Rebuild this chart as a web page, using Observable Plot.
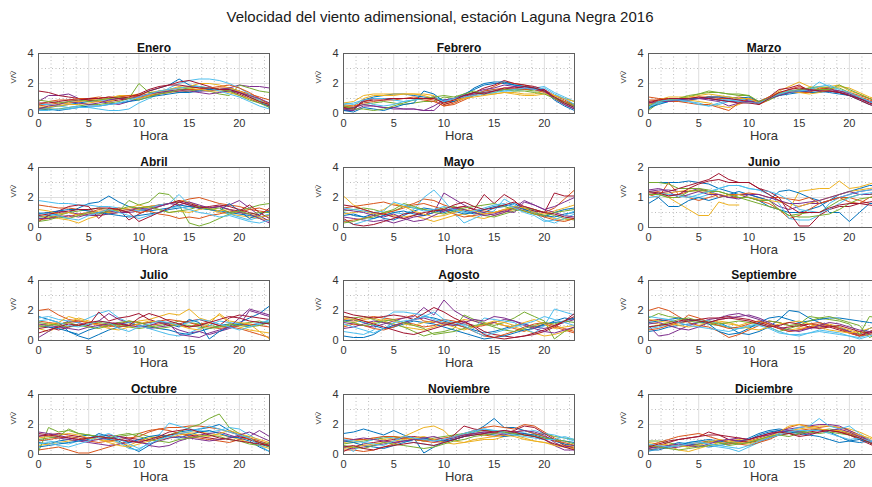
<!DOCTYPE html>
<html><head><meta charset="utf-8">
<script src="https://cdn.jsdelivr.net/npm/d3@7"></script>
<script src="https://cdn.jsdelivr.net/npm/@observablehq/plot@0.6"></script>
<style>
html,body{margin:0;padding:0;background:#fff;}
#fig{position:relative;width:872px;height:487px;overflow:hidden;background:#fff;font-family:"Liberation Sans",Arial,sans-serif;}
#title{position:absolute;left:0;width:880px;top:8px;text-align:center;font-size:15px;color:#1a1a1a;}
.panel{position:absolute;width:281px;height:120px;}
.panel svg{max-width:none !important;display:block;}
</style></head><body>
<div id="fig"><div id="title">Velocidad del viento adimensional, estación Laguna Negra 2016</div></div>
<script>
const hours = [0,1,2,3,4,5,6,7,8,9,10,11,12,13,14,15,16,17,18,19,20,21,22,23];
const xTicks = [0,5,10,15,20];
const xMinor = [1.25,2.5,3.75,6.25,7.5,8.75,11.25,12.5,13.75,16.25,17.5,18.75,21.25,22.5];
const yTicks4 = [0,2,4];
const yMinor4 = [1,3];
const yTicks2 = [0,1,2];
const yMinor2 = [0.5,1.5];
const colors = ["#0072BD","#D95319","#EDB120","#7E2F8E","#77AC30","#4DBEEE","#A2142F"];
const monthNames = ["Enero","Febrero","Marzo","Abril","Mayo","Junio","Julio","Agosto","Septiembre","Octubre","Noviembre","Diciembre"];

const enero = [
[0.4,0.4,0.5,0.6,0.7,0.8,0.9,0.9,1.0,1.0,1.2,1.5,1.7,1.9,2.3,1.9,1.8,1.6,1.6,1.7,1.5,1.2,0.9,0.5],
[0.5,0.6,0.7,0.7,0.8,0.9,1.0,1.1,1.1,1.2,1.2,1.3,1.5,1.6,1.7,1.8,1.7,1.6,1.7,1.7,1.5,1.3,1.1,0.9],
[0.3,0.4,0.6,0.7,0.8,0.9,0.9,1.0,1.2,1.2,1.3,1.4,1.5,1.6,1.7,1.8,2.0,2.0,1.9,1.7,1.5,1.2,0.9,0.7],
[0.8,1.2,1.2,1.3,1.0,0.9,0.8,0.7,0.6,0.8,1.0,1.2,1.3,1.5,1.6,1.6,1.5,1.5,1.6,1.7,1.9,1.8,1.8,1.7],
[0.2,0.3,0.3,0.4,0.5,0.6,0.6,0.7,0.8,1.0,2.0,1.4,1.4,1.5,1.4,1.5,1.6,1.5,1.3,1.2,1.9,1.7,1.5,1.4],
[0.6,0.6,0.5,0.4,0.5,0.4,0.3,0.2,0.2,0.3,0.7,1.0,1.3,1.7,2.0,2.2,2.3,2.3,2.2,2.0,1.7,1.3,0.9,0.5],
[1.5,1.4,1.2,1.1,1.0,0.9,0.8,0.8,0.9,1.0,1.2,1.5,1.7,1.9,2.1,2.2,2.0,1.8,1.6,1.5,1.3,1.0,0.7,0.5],
[0.3,0.3,0.2,0.3,0.4,0.5,0.5,0.6,0.7,0.8,0.9,1.1,1.2,1.3,1.4,1.4,1.5,1.6,1.6,1.6,1.4,1.1,0.8,0.4],
[0.6,0.8,0.9,0.9,1.0,1.0,1.1,1.0,1.1,1.2,1.1,1.2,1.3,1.4,1.5,1.6,1.6,1.7,1.8,1.9,1.7,1.4,1.0,0.6],
[0.4,0.5,0.5,0.6,0.6,0.7,0.8,0.8,1.0,1.1,1.0,1.2,1.4,1.6,1.8,1.7,1.6,1.5,1.5,1.4,1.2,1.0,0.8,0.6],
[0.3,0.5,0.6,0.8,0.7,0.6,0.7,0.9,1.0,1.0,1.1,1.3,1.4,1.5,1.5,1.5,1.4,1.3,1.4,1.5,1.4,1.2,1.0,0.7],
[0.9,0.8,0.7,0.8,0.9,0.8,0.9,1.0,1.1,1.0,0.9,1.1,1.3,1.4,1.6,1.7,1.8,1.7,1.6,1.5,1.2,0.9,0.7,0.4],
[0.2,0.2,0.3,0.3,0.4,0.4,0.5,0.6,0.7,0.9,1.1,1.3,1.5,1.6,1.7,1.8,1.8,1.7,1.5,1.3,1.1,0.8,0.5,0.3],
[0.7,0.7,0.8,0.9,0.9,1.0,1.0,1.1,1.0,1.1,1.3,1.6,1.8,1.9,1.9,1.8,1.7,1.7,1.6,1.6,1.4,1.1,0.8,0.6]];

const febrero = [
[0.3,0.2,0.9,1.1,1.2,1.3,1.3,1.2,1.1,1.0,0.9,1.0,1.3,1.6,1.9,2.0,2.0,1.9,1.8,1.7,1.5,1.0,0.7,0.4],
[0.4,0.4,0.8,1.0,1.0,1.0,1.0,1.1,1.0,0.9,0.5,0.7,1.0,1.3,1.5,1.8,2.1,2.0,1.9,1.7,1.6,1.2,0.9,0.6],
[0.6,0.5,1.0,1.2,1.2,1.2,1.3,1.3,1.3,1.2,0.6,0.8,1.0,1.2,1.3,1.3,1.4,1.4,1.3,1.3,1.5,1.2,1.0,0.8],
[0.2,0.2,0.5,0.5,0.4,0.3,0.3,0.3,0.2,0.2,0.8,1.0,1.2,1.4,1.6,1.7,1.9,1.8,1.7,1.6,1.6,1.1,0.8,0.5],
[0.5,0.4,0.6,0.7,0.8,0.7,0.6,0.7,0.8,0.8,1.1,1.0,1.2,1.4,1.4,1.5,1.6,1.6,1.6,1.5,1.5,1.1,0.8,0.6],
[0.7,0.6,0.8,0.6,0.5,0.6,0.8,0.9,1.0,1.1,0.9,1.0,1.2,1.3,1.5,1.6,1.5,1.5,1.6,1.7,1.8,1.4,1.1,0.8],
[0.4,0.3,0.9,1.0,1.0,1.0,1.0,1.0,1.0,1.1,0.6,0.8,1.1,1.4,1.7,1.9,2.2,2.0,1.9,1.8,1.6,1.0,0.6,0.3],
[0.2,0.1,0.4,0.3,0.2,0.4,0.6,0.7,1.5,1.3,0.8,0.8,1.2,1.7,2.0,2.1,2.1,1.9,1.8,1.7,1.5,0.9,0.5,0.2],
[0.5,0.5,0.7,0.8,0.9,0.9,1.0,1.0,0.9,0.8,0.5,0.6,0.9,1.2,1.5,1.6,1.7,1.7,1.6,1.6,1.4,1.0,0.8,0.5],
[0.7,0.8,1.2,1.3,1.3,1.3,1.3,1.3,1.2,1.0,0.7,0.9,1.0,1.1,1.2,1.3,1.4,1.3,1.2,1.2,1.3,1.2,1.0,0.8],
[0.3,0.4,0.6,0.5,0.4,0.4,0.3,0.3,0.2,0.5,0.9,1.0,1.2,1.3,1.4,1.5,1.6,1.8,1.7,1.6,1.5,1.0,0.6,0.3],
[0.5,0.3,0.3,0.2,0.3,0.5,0.7,0.9,1.0,1.1,1.2,1.1,1.3,1.5,1.3,1.4,1.6,1.5,1.5,1.4,1.3,1.0,0.7,0.5],
[0.6,0.7,0.9,1.0,1.0,0.9,0.8,0.9,1.0,1.0,0.8,1.0,1.1,1.2,1.3,1.4,1.5,1.6,1.7,1.6,1.7,1.3,1.0,0.6],
[0.3,0.3,0.8,0.9,0.9,1.0,1.0,1.0,1.0,1.0,0.7,0.9,1.2,1.4,1.3,1.5,1.7,1.7,1.8,1.7,1.5,1.1,0.7,0.4]];

const marzo = [
[0.3,0.7,0.8,0.9,0.9,1.0,1.0,0.9,0.9,0.9,0.9,0.6,1.0,1.3,1.4,1.5,1.4,1.4,1.5,1.4,1.2,0.9,0.6,0.4],
[1.1,1.0,1.0,1.0,1.0,1.1,1.1,1.0,1.0,1.1,1.0,0.6,0.9,1.3,1.6,1.8,1.6,1.5,1.5,1.4,1.3,1.1,0.9,0.7],
[0.4,0.8,1.0,1.0,0.9,0.8,0.7,0.5,0.4,0.6,0.9,0.8,1.1,1.5,1.8,2.1,1.8,1.7,1.8,1.9,1.5,1.3,1.0,0.8],
[0.6,0.8,0.9,0.9,1.0,1.0,0.9,0.8,0.5,0.7,0.9,0.7,1.0,1.3,1.4,1.6,1.6,1.5,1.5,1.4,1.2,1.0,0.7,0.5],
[0.2,0.7,0.9,1.0,1.1,1.3,1.4,1.4,1.3,1.3,1.2,0.7,0.9,1.2,1.4,1.5,1.7,1.8,1.7,1.7,1.4,1.1,0.8,0.6],
[0.5,0.7,0.8,0.8,0.8,0.7,0.5,0.6,0.8,1.0,0.9,0.8,1.1,1.3,1.4,1.4,1.6,2.1,1.8,1.5,1.3,1.0,0.8,0.5],
[0.8,0.9,0.9,1.0,1.0,1.0,1.1,1.1,1.0,0.9,0.8,0.7,1.1,1.6,1.7,1.9,1.5,1.6,1.7,1.4,1.2,0.9,0.6,0.4],
[0.4,0.6,0.8,0.9,1.0,1.0,1.1,1.1,1.1,1.0,1.1,0.8,1.0,1.2,1.3,1.4,1.5,1.5,1.4,1.3,1.2,1.0,0.8,0.6],
[0.9,0.9,0.8,0.8,0.7,0.6,0.6,0.4,0.2,0.7,1.0,0.8,1.1,1.4,1.5,1.4,1.4,1.7,1.6,1.5,1.4,1.2,1.0,0.8],
[0.6,0.9,1.1,1.1,1.1,1.2,1.3,1.2,1.1,1.0,1.0,0.7,1.0,1.4,1.5,1.4,1.3,1.4,1.6,1.8,1.7,1.4,1.1,0.9],
[0.7,0.8,0.8,0.9,0.9,1.0,1.0,0.9,0.8,0.8,0.8,0.7,1.0,1.2,1.4,1.5,1.5,1.6,1.6,1.5,1.3,1.0,0.8,0.6],
[0.5,0.8,0.9,1.0,1.2,1.3,1.5,1.4,1.3,1.2,1.2,0.8,1.0,1.3,1.5,1.6,1.7,1.6,1.6,1.9,1.6,1.3,1.0,0.7],
[0.4,0.8,0.9,0.9,0.8,0.6,0.5,0.7,0.9,0.8,0.7,0.7,1.0,1.3,1.5,1.5,1.6,1.8,1.9,1.6,1.4,1.1,0.8,0.5],
[0.7,0.9,1.0,1.0,1.0,1.1,1.0,0.9,0.8,0.7,0.7,0.6,1.0,1.4,1.6,1.7,1.6,1.5,1.5,1.4,1.2,1.0,0.7,0.5]];

const abril = [
[0.7,0.8,0.9,1.0,1.3,1.6,1.7,2.1,1.7,1.4,1.2,1.1,1.2,1.3,1.5,1.4,1.3,1.2,1.1,1.0,0.9,0.8,0.7,0.8],
[1.5,1.4,1.3,1.3,1.2,1.1,1.0,1.0,1.1,1.2,1.3,1.4,1.5,1.6,1.7,1.9,2.0,1.8,1.6,1.5,1.4,1.2,1.1,1.0],
[0.8,0.7,0.6,0.5,0.3,0.6,0.8,0.9,1.0,1.1,1.2,1.4,1.5,1.6,1.8,1.7,1.4,1.2,1.0,0.9,0.8,0.7,0.6,0.5],
[0.9,1.0,1.1,1.0,0.9,0.8,0.8,0.9,1.0,1.0,1.1,1.3,1.5,1.6,1.7,1.5,1.4,1.3,1.4,1.5,1.8,1.3,0.8,0.4],
[0.6,0.7,0.8,1.0,1.1,1.2,1.3,1.2,1.1,1.8,1.5,1.7,2.3,2.2,1.5,0.3,0.1,0.3,0.6,0.9,1.1,1.3,1.5,1.6],
[1.8,1.7,1.6,1.6,1.5,1.5,1.4,1.4,1.3,1.2,1.1,1.3,1.5,1.6,2.2,1.5,1.3,1.2,1.1,0.9,0.7,0.5,0.7,0.9],
[0.4,0.8,1.1,1.4,1.5,1.4,0.6,1.3,1.2,0.5,0.9,1.2,1.4,1.6,1.8,1.6,1.4,1.3,1.4,1.2,1.1,1.5,1.0,0.6],
[0.9,1.0,1.1,1.2,1.2,1.1,1.0,0.9,0.8,0.7,0.8,0.9,1.0,1.2,1.3,1.4,1.3,1.2,1.1,1.6,1.1,0.6,0.9,1.1],
[0.5,0.6,0.8,0.7,0.9,1.0,1.2,1.1,1.3,1.2,1.0,1.1,0.9,0.8,0.6,0.7,0.6,0.8,0.9,1.1,1.0,1.2,1.3,1.1],
[1.2,1.1,0.9,1.0,0.8,0.9,1.1,1.0,1.2,1.3,1.5,1.3,1.2,1.0,1.1,1.0,1.2,1.3,1.1,1.2,1.0,0.9,0.7,0.8],
[0.6,0.6,0.7,0.8,0.7,0.9,0.9,1.1,1.0,1.1,1.3,1.2,1.4,1.6,1.5,1.7,1.5,1.3,1.4,1.2,1.0,0.9,0.6,0.3],
[0.4,0.5,0.7,0.6,0.8,1.0,0.9,1.1,1.2,1.4,1.3,1.4,1.2,1.0,1.1,1.2,1.4,1.2,1.3,1.0,1.1,0.9,1.0,1.0],
[1.0,0.9,0.8,0.6,0.5,0.8,1.0,1.2,1.0,0.8,0.6,0.8,1.0,1.3,1.4,1.2,1.0,0.9,0.7,0.8,0.6,0.4,0.3,0.5],
[0.8,0.9,1.0,1.1,1.2,1.2,1.3,1.3,1.2,1.0,0.4,0.7,1.0,1.3,1.7,1.5,1.3,1.4,1.5,1.4,1.2,1.0,0.8,1.3]];

const mayo = [
[1.0,0.8,0.7,0.9,0.6,0.5,0.8,1.1,1.3,1.2,1.0,1.2,1.1,0.9,1.0,1.3,1.4,1.6,1.3,1.1,0.7,1.0,1.2,1.3],
[1.3,1.4,1.5,1.6,1.7,1.5,1.4,1.6,1.9,1.8,1.5,1.3,1.4,1.2,1.1,1.0,1.1,1.3,1.4,1.2,1.0,1.3,1.9,2.5],
[2.1,1.5,1.2,1.0,0.9,0.8,0.7,0.8,0.6,0.4,0.6,0.8,0.9,0.7,0.6,0.8,1.0,1.2,1.1,0.9,0.8,0.6,0.5,0.6],
[0.7,0.6,0.5,0.4,0.5,0.3,0.5,0.7,0.8,1.0,2.3,1.9,1.5,1.2,1.0,0.8,1.0,1.3,1.8,1.5,1.2,1.4,1.7,2.0],
[1.1,1.2,1.3,1.2,1.0,1.1,1.4,1.3,1.2,1.1,1.3,1.4,1.2,1.0,0.8,0.7,0.9,1.1,1.3,1.2,1.0,0.8,0.6,0.5],
[0.5,0.2,0.4,0.6,0.8,1.0,0.9,1.2,2.0,2.5,1.8,1.0,0.3,0.6,0.9,1.1,1.9,1.5,1.2,1.0,0.5,0.3,0.6,0.9],
[0.6,0.2,0.1,0.2,0.4,0.6,0.9,1.0,0.8,1.2,1.1,1.3,1.4,1.2,2.2,1.6,2.2,1.8,1.2,1.1,1.0,2.3,2.1,2.1],
[0.8,0.9,0.7,0.6,0.8,1.0,1.1,0.9,0.8,1.0,1.2,1.1,0.9,1.0,1.2,1.4,1.5,1.4,1.2,1.0,0.8,0.7,0.9,1.0],
[0.4,0.5,0.6,0.8,0.9,1.1,1.3,1.5,1.6,1.4,1.2,0.9,0.7,0.8,0.9,1.0,1.2,1.3,1.1,0.9,0.7,0.5,0.4,0.6],
[0.9,1.0,1.1,0.9,1.2,1.6,1.4,1.1,0.9,0.7,0.8,1.0,1.2,1.1,0.9,1.0,1.2,1.4,1.3,1.0,0.9,1.1,1.3,1.5],
[1.2,1.1,1.0,0.8,0.7,0.9,0.6,0.4,0.5,0.8,1.1,1.3,1.2,1.0,0.8,0.9,1.1,1.0,1.7,1.5,1.2,1.0,0.8,0.7],
[0.3,0.4,0.6,0.7,1.0,1.2,1.6,1.4,1.2,1.0,0.9,1.1,1.3,1.4,1.5,1.6,1.4,1.2,1.1,0.9,0.8,1.0,1.1,1.2],
[1.3,1.2,1.1,1.0,1.1,1.7,1.5,1.3,1.1,1.2,1.4,1.2,1.0,1.1,1.3,1.5,1.6,1.3,1.0,0.8,0.4,0.5,0.8,1.1],
[1.5,1.4,1.2,1.0,0.9,0.7,0.6,0.8,1.0,1.1,1.2,1.5,1.7,1.4,1.2,1.3,1.5,1.7,1.4,1.2,1.0,0.9,0.7,0.6]];

const junio = [
[1.5,1.5,1.5,1.5,1.55,1.5,1.45,1.3,1.2,1.1,1.0,0.9,0.7,0.6,0.5,0.5,0.6,0.7,0.9,1.1,1.2,1.3,1.4,1.4],
[1.1,1.0,1.5,1.1,1.0,0.9,1.0,1.1,1.0,1.0,1.0,0.9,0.8,0.6,0.3,0.4,0.6,0.8,0.9,1.0,1.0,0.9,0.8,0.8],
[1.2,1.1,1.0,0.8,0.6,0.4,0.4,0.85,0.75,0.75,null,null,null,null,0.6,1.2,1.25,1.3,1.3,1.55,1.3,1.35,1.45,1.55],
[1.2,1.25,1.25,1.2,1.2,1.3,1.2,1.1,1.0,1.1,1.1,1.0,0.9,0.7,0.6,0.7,0.8,0.8,0.9,1.0,1.1,1.2,1.25,1.3],
[1.5,1.5,1.45,1.3,1.3,1.3,1.25,1.2,1.1,1.0,0.9,0.8,0.7,0.6,0.4,0.45,0.5,0.5,0.7,0.9,1.0,1.1,1.1,1.1],
[1.0,1.05,1.1,1.1,1.05,1.0,1.1,1.3,1.4,1.4,1.3,1.25,1.1,0.8,0.3,0.25,0.25,0.4,0.8,1.0,1.1,1.2,1.25,1.3],
[1.1,1.15,1.2,1.3,1.4,1.5,1.6,1.8,1.6,1.5,1.5,1.3,1.2,1.0,0.5,0.05,0.05,0.4,0.6,0.7,0.7,0.8,0.85,0.9],
[0.8,1.0,0.7,0.7,0.9,1.0,0.9,1.0,1.1,1.2,1.1,1.0,0.9,1.2,1.25,1.15,1.0,0.9,0.5,0.5,0.2,0.5,0.8,0.8],
[1.15,1.2,1.05,1.1,1.2,1.25,1.2,1.0,1.1,1.1,1.15,1.1,1.0,1.0,0.95,0.9,1.0,0.8,0.9,1.0,0.85,0.8,1.0,1.1],
[1.1,1.1,1.15,1.2,1.25,1.2,1.15,1.1,1.05,1.1,1.0,0.95,0.9,0.85,0.8,0.7,0.8,0.9,1.0,1.1,1.2,1.25,1.3,1.35],
[1.25,1.3,1.2,1.0,1.1,1.2,1.1,1.1,1.0,0.95,1.1,1.1,1.0,0.9,0.8,0.8,0.85,0.9,1.0,1.1,1.2,1.1,1.1,1.2],
[1.1,1.1,1.0,1.0,1.2,1.25,1.2,1.2,1.1,1.0,1.0,0.9,0.9,0.6,0.4,0.35,0.35,0.4,0.45,0.6,0.8,0.95,1.0,1.0],
[1.2,1.15,1.1,1.05,1.0,1.1,1.2,1.3,1.4,1.4,1.3,1.25,1.2,1.1,0.9,0.6,0.55,0.5,0.6,0.8,1.0,1.1,1.15,1.2],
[1.2,1.15,1.05,1.1,1.3,1.45,1.55,1.6,1.5,1.5,1.5,1.3,1.1,0.9,0.7,0.5,0.5,0.5,0.65,0.75,0.8,0.8,0.75,0.7]];

const julio = [
[1.6,1.4,1.2,0.6,0.4,0.7,0.9,1.0,1.1,1.2,1.0,0.9,0.8,0.7,0.5,0.4,0.6,0.8,1.0,1.1,1.2,1.5,1.8,2.3],
[2.0,2.1,1.7,1.4,1.3,1.2,1.0,0.9,1.1,1.3,1.2,1.0,1.1,1.2,1.0,0.9,1.1,1.2,1.0,0.9,0.8,0.6,0.4,0.2],
[0.8,0.6,0.9,1.2,1.5,1.3,1.1,1.0,0.9,1.1,1.3,1.4,1.6,1.8,1.7,2.1,1.5,1.3,1.7,1.2,0.9,0.7,0.6,0.5],
[0.2,0.6,1.0,1.3,1.2,1.0,1.3,1.8,1.4,1.2,1.0,0.8,0.9,1.0,0.7,0.5,0.6,0.4,0.6,0.8,1.0,2.0,1.8,1.6],
[1.2,1.1,1.0,0.9,1.0,1.1,1.2,1.1,1.0,0.9,0.8,0.9,1.0,1.1,1.3,1.2,1.1,1.0,0.9,1.0,1.1,1.2,1.3,1.1],
[1.5,1.6,1.4,1.3,1.2,1.5,1.8,2.0,1.5,1.2,1.0,0.8,0.6,0.4,0.3,0.5,0.8,1.0,1.3,1.2,1.1,1.0,1.2,1.3],
[0.8,0.9,0.7,0.9,1.1,1.0,1.9,1.3,1.5,1.6,1.8,1.4,1.2,1.0,1.1,1.3,1.4,1.2,1.0,1.5,1.7,1.6,1.5,1.4],
[1.0,0.9,0.8,0.6,0.3,0.1,0.4,0.7,0.9,1.0,1.1,1.2,1.3,1.1,0.9,1.4,1.2,0.1,0.6,0.9,1.1,1.0,1.1,1.2],
[1.3,1.2,1.1,1.2,1.3,1.2,1.1,1.0,0.9,1.0,1.1,1.2,1.3,1.4,1.3,1.2,1.0,0.9,0.8,0.9,1.0,1.1,1.0,0.9],
[1.0,1.1,1.2,1.6,1.4,1.2,1.0,0.8,0.7,0.9,1.1,1.3,1.2,1.1,1.0,0.8,0.7,1.1,1.8,1.3,1.2,1.1,0.6,0.1],
[1.1,1.0,0.9,0.8,0.7,0.9,1.0,1.1,1.2,1.0,0.9,1.0,1.2,1.1,0.4,0.3,0.2,0.5,0.7,0.9,1.5,2.1,1.9,1.7],
[0.9,1.0,1.1,1.2,1.0,0.9,0.8,1.0,1.2,1.3,1.2,1.0,0.8,0.9,1.1,1.0,0.9,0.8,0.9,1.1,1.0,0.9,1.0,1.2],
[1.3,1.4,1.2,1.0,0.9,1.1,1.3,1.2,0.8,0.6,0.9,1.1,1.3,1.2,1.0,1.2,1.4,1.3,1.1,0.9,0.7,0.9,1.1,1.4],
[0.5,0.7,0.9,1.1,1.0,1.2,1.3,1.2,1.1,1.0,1.5,1.8,1.6,1.3,1.1,0.9,1.0,1.2,1.4,1.6,1.5,1.3,1.2,1.1]];

const agosto = [
[0.3,0.2,0.2,0.4,0.8,1.0,1.2,1.4,1.6,1.5,1.3,1.1,0.9,0.7,0.5,0.6,0.8,1.0,1.1,0.9,1.0,1.3,1.5,1.4],
[1.4,1.3,1.5,1.6,1.5,1.4,1.5,1.7,1.3,1.2,1.4,1.3,1.1,0.9,1.0,1.2,1.0,0.8,0.6,0.9,1.1,0.9,0.7,0.5],
[1.0,1.2,1.4,1.5,1.3,1.1,0.9,0.8,0.7,0.9,1.1,1.2,1.4,1.3,1.1,1.2,1.0,0.9,0.7,0.5,0.3,0.4,0.6,0.8],
[1.2,1.1,1.0,0.9,1.1,1.3,1.5,1.6,2.2,1.7,2.7,2.0,1.6,1.3,1.1,1.2,1.4,1.3,1.1,0.9,0.8,1.0,1.2,1.4],
[1.6,1.5,1.6,1.4,1.2,1.1,0.9,0.6,0.3,0.5,0.6,0.8,1.7,1.4,1.2,1.0,1.2,1.5,1.9,1.6,1.3,0.1,0.6,0.9],
[0.6,0.5,0.4,0.7,1.5,1.9,1.9,1.8,1.7,1.4,1.2,1.0,1.1,0.8,1.5,1.4,1.3,1.2,0.8,0.5,1.0,2.1,1.9,1.7],
[1.9,1.7,1.6,1.5,1.6,1.7,1.6,1.4,1.8,2.2,1.9,1.5,1.2,1.0,0.6,0.4,0.3,0.2,0.3,0.4,0.6,0.9,1.3,1.8],
[1.3,1.4,1.2,1.0,0.8,0.9,1.1,1.3,1.2,1.1,0.9,0.7,0.5,0.3,0.1,0.2,0.3,0.5,0.7,0.8,1.1,1.2,1.3,1.5],
[0.9,1.1,1.0,0.8,0.7,0.9,1.2,1.1,0.9,1.0,1.2,1.1,0.9,0.6,0.3,0.2,0.4,0.6,0.9,1.1,1.2,1.0,0.8,0.6],
[1.5,1.4,1.3,1.2,1.4,1.3,1.1,1.0,1.2,1.3,1.1,0.9,0.7,0.9,1.1,1.3,1.2,1.0,1.2,1.4,1.1,0.8,0.9,1.0],
[0.8,0.9,1.1,1.3,1.2,1.0,1.2,1.4,1.5,1.3,1.1,1.0,1.2,1.4,1.3,1.6,1.5,1.3,1.0,0.8,0.6,0.5,0.7,0.9],
[1.3,1.2,1.0,1.1,1.3,1.4,1.2,1.0,0.8,0.4,0.5,0.6,0.8,1.0,1.1,0.9,0.7,0.6,0.8,1.0,1.2,1.1,1.3,1.2],
[1.1,0.9,0.7,0.5,0.8,1.2,1.3,1.4,1.6,1.9,1.4,1.2,1.0,0.6,0.3,0.5,0.7,0.9,1.1,1.3,1.6,1.4,1.2,1.0],
[1.6,1.5,1.3,1.1,0.9,0.7,0.5,0.4,0.6,0.8,1.0,1.2,1.3,0.9,0.4,0.2,0.1,0.2,0.3,0.5,0.7,1.0,1.3,1.6]];

const septiembre = [
[0.6,0.7,0.9,1.0,1.1,1.2,1.3,1.2,0.9,0.5,0.4,0.6,0.9,1.4,2.0,1.9,1.5,1.2,1.0,0.9,0.6,0.4,0.8,1.1],
[2.0,2.2,2.0,1.6,1.2,1.0,0.9,0.6,0.2,0.4,0.7,1.0,1.3,1.2,1.0,0.9,1.1,1.2,1.0,0.8,0.6,0.4,0.5,0.7],
[1.2,1.1,1.0,1.1,1.3,1.4,1.3,1.2,1.1,1.0,1.2,1.3,1.1,0.9,0.7,0.8,0.9,1.0,1.1,0.9,0.7,0.5,0.6,0.8],
[1.0,0.3,0.4,0.7,1.0,1.2,1.4,1.5,1.7,1.8,1.6,1.4,1.1,0.8,0.6,0.7,0.8,0.9,1.0,0.8,0.6,0.3,0.5,0.7],
[1.5,1.8,1.6,1.5,1.3,1.2,1.1,1.0,0.9,0.8,0.9,1.1,1.3,1.2,1.0,1.1,1.6,1.5,1.4,1.3,1.1,0.4,1.6,1.5],
[0.8,0.9,1.1,1.2,1.3,1.4,1.3,1.1,0.9,0.8,0.9,1.0,0.8,0.5,0.4,0.4,0.5,0.6,0.5,0.4,0.3,0.2,0.4,0.6],
[1.3,1.4,1.3,1.2,1.3,1.4,1.5,1.5,1.6,1.5,1.4,1.2,1.0,0.8,0.9,1.0,1.1,1.0,0.9,0.7,0.5,0.3,0.6,0.8],
[1.2,1.3,1.4,1.5,1.4,1.3,1.1,0.6,0.4,0.5,0.8,1.2,1.5,1.6,1.4,1.2,1.3,1.4,1.5,1.5,1.4,1.3,1.2,1.1],
[0.7,0.8,1.0,1.2,1.7,1.5,1.2,1.0,0.8,0.9,1.1,1.3,1.1,0.8,0.6,0.7,0.9,1.1,1.0,0.8,0.5,0.3,0.4,0.6],
[1.4,1.3,1.2,1.0,0.9,1.0,1.2,1.3,1.2,1.0,0.8,0.7,0.9,1.1,1.2,1.3,1.1,0.9,0.7,0.6,0.5,0.6,0.8,1.0],
[1.1,1.2,1.0,0.8,0.7,0.9,1.2,1.4,1.5,1.6,1.7,1.5,1.2,0.9,0.7,0.6,0.8,1.0,1.2,1.1,0.9,0.7,0.6,0.5],
[0.9,1.0,1.2,1.4,1.5,1.3,1.2,1.1,1.2,1.3,1.2,1.1,0.9,0.6,0.8,1.0,1.3,1.5,1.6,1.4,1.2,1.0,0.2,0.5],
[1.6,1.5,1.4,1.2,1.0,0.9,0.8,0.7,0.6,0.8,1.0,1.1,0.9,0.6,0.4,0.3,0.5,0.7,0.6,0.5,0.3,0.1,0.3,0.5],
[0.9,1.0,1.1,1.3,1.4,1.3,1.2,1.4,1.5,1.4,1.3,1.1,0.9,1.0,1.2,1.1,0.9,0.8,0.9,1.0,0.8,0.6,0.5,0.7]];

const octubre = [
[0.8,0.7,0.9,1.0,1.2,1.3,1.1,1.0,0.9,0.5,0.2,0.6,1.0,1.3,1.5,1.6,1.7,1.8,2.0,1.6,1.3,1.0,0.7,0.5],
[0.3,0.4,0.5,0.3,0.1,0.1,0.3,0.5,0.7,0.9,1.4,1.6,1.7,1.8,1.8,1.9,1.9,1.8,1.7,1.5,1.3,1.0,0.8,0.6],
[0.6,0.7,0.8,0.9,1.0,1.1,1.0,0.9,0.8,0.6,0.9,1.1,1.2,1.3,1.4,1.5,1.5,1.4,1.3,1.2,1.0,0.8,0.6,0.4],
[1.3,1.2,1.1,1.0,0.9,0.8,0.7,0.6,0.7,0.8,0.9,0.6,0.5,0.6,0.9,1.1,1.3,1.4,1.5,1.3,1.1,1.2,1.6,1.2],
[0.2,1.8,1.5,1.6,1.4,1.3,1.2,1.1,1.2,1.3,1.4,1.2,1.1,1.3,1.5,1.8,2.0,2.4,2.7,1.8,1.4,1.1,0.8,0.5],
[1.0,0.9,0.8,0.7,0.9,1.1,1.3,1.1,0.8,0.4,0.3,0.8,1.3,2.1,1.9,1.7,1.6,1.5,1.6,1.8,1.7,1.3,0.9,0.6],
[1.2,1.3,1.4,1.3,1.2,1.1,1.2,1.3,1.2,1.1,1.0,0.9,1.1,1.3,1.4,1.3,1.2,1.1,1.0,1.1,1.2,1.0,0.8,0.6],
[0.5,0.6,0.7,0.8,0.9,1.0,1.4,1.2,1.0,0.8,1.0,1.2,1.3,1.2,1.1,1.3,1.5,1.6,1.4,1.2,1.1,0.9,0.5,0.2],
[0.9,1.0,1.1,1.2,1.1,0.9,0.8,0.9,1.0,1.1,1.2,1.5,1.7,1.6,1.4,1.2,1.1,1.0,0.9,0.8,1.0,1.1,0.9,0.7],
[1.1,1.2,1.3,1.4,1.3,1.1,1.0,0.8,0.6,0.5,0.7,0.9,1.0,1.1,1.3,1.4,1.3,1.2,1.4,1.6,1.4,1.2,1.0,0.8],
[1.5,1.4,1.3,1.1,1.0,0.9,1.0,1.1,1.2,1.0,0.8,0.7,0.9,1.1,1.2,1.1,1.0,0.9,1.0,1.1,1.3,1.5,1.2,0.9],
[1.0,1.1,1.2,1.7,1.4,1.3,1.2,1.1,1.3,1.4,1.2,1.0,0.9,0.8,1.0,1.1,1.2,1.3,1.2,1.0,0.9,0.7,0.6,0.8],
[0.7,0.8,0.6,0.5,0.7,0.9,1.2,1.4,1.1,0.7,0.4,0.7,1.0,1.2,1.4,1.5,1.7,1.9,1.7,1.5,1.3,1.1,0.6,0.2],
[1.4,1.3,1.2,1.1,1.0,1.1,1.2,1.1,1.0,0.9,0.8,1.0,1.2,1.5,1.6,1.7,1.5,1.3,1.1,1.0,0.9,0.8,0.7,0.6]];

const noviembre = [
[1.4,1.5,1.7,1.5,1.3,1.6,1.3,1.1,0.1,0.5,0.8,1.0,1.2,1.5,1.9,2.4,1.8,1.8,1.6,1.4,1.2,1.0,0.9,0.8],
[0.3,0.3,0.2,0.3,0.5,0.7,0.9,1.0,0.9,0.8,0.9,1.2,1.4,1.6,1.8,1.9,1.8,1.7,2.0,1.9,1.5,1.1,0.7,0.4],
[0.8,0.9,1.0,1.1,1.0,1.1,1.2,1.5,1.8,1.9,1.6,0.9,0.8,0.9,1.0,1.0,1.2,1.3,1.1,0.9,0.8,0.7,0.6,0.5],
[0.5,0.4,0.5,0.6,0.7,0.8,0.9,1.0,1.0,0.9,0.8,1.0,1.2,1.4,1.5,1.5,1.6,1.5,1.4,1.2,1.0,0.6,0.3,0.3],
[0.7,0.8,0.9,1.0,1.1,1.2,1.1,1.0,0.9,1.1,1.2,1.3,1.4,1.5,1.6,1.6,1.5,1.4,1.3,1.3,1.4,1.2,1.1,1.0],
[0.6,0.2,0.8,1.0,1.2,1.1,0.9,0.8,0.7,0.6,0.8,1.1,1.3,1.5,1.7,1.6,1.5,1.4,1.5,1.6,1.4,1.3,1.1,0.9],
[0.2,0.5,0.7,0.8,0.9,1.0,1.1,1.2,1.1,1.0,0.9,1.3,1.9,1.7,1.6,1.5,1.4,1.6,1.9,1.8,1.4,1.0,0.6,0.4],
[0.9,0.8,0.6,0.5,0.4,0.6,0.8,1.0,1.1,1.0,0.9,1.0,1.2,1.3,1.4,1.3,1.2,1.3,1.4,1.3,1.1,0.9,0.7,0.6],
[1.1,1.0,1.0,1.1,1.2,1.2,1.1,1.0,0.9,1.0,1.1,1.2,1.3,1.4,1.3,1.2,1.3,1.5,1.6,1.4,1.2,0.9,0.8,0.6],
[0.4,0.5,0.6,0.7,0.8,0.9,1.0,1.1,1.2,1.0,0.8,0.7,0.8,1.0,1.1,1.2,1.3,1.2,1.0,0.9,0.8,0.6,0.5,0.4],
[0.9,1.0,1.1,1.0,0.9,0.8,0.9,1.0,1.1,1.2,1.0,1.1,1.3,1.4,1.5,1.4,1.3,1.5,1.6,1.5,1.3,0.8,0.5,0.6],
[0.6,0.5,0.4,0.6,0.8,0.7,0.6,0.5,0.4,0.5,0.7,0.9,1.0,1.2,1.3,1.4,1.5,1.4,1.3,1.2,1.1,1.0,0.9,0.7],
[1.0,0.9,0.8,0.7,0.6,0.9,1.2,1.1,1.0,0.9,1.0,1.2,1.4,1.6,1.7,1.6,1.4,1.3,1.2,1.1,1.0,1.0,1.2,1.0],
[0.5,0.6,0.4,0.3,0.5,0.6,0.7,0.8,0.7,0.6,0.8,1.0,1.2,1.3,1.4,1.5,1.6,1.5,1.3,1.2,1.0,0.7,0.5,0.3]];

const diciembre = [
[0.5,0.4,0.6,0.8,0.7,0.6,0.5,0.6,0.7,0.8,1.1,1.4,1.6,1.7,1.6,1.5,1.6,1.7,1.5,1.2,0.9,0.8,0.9,0.6],
[0.3,0.4,0.5,0.6,0.7,0.8,0.9,0.8,0.7,0.8,0.9,1.1,1.3,1.5,1.8,2.0,1.9,1.8,1.9,1.8,1.6,1.3,1.0,0.5],
[0.8,0.7,0.6,0.3,0.2,0.4,0.6,0.8,0.9,1.0,0.9,1.0,1.2,1.4,1.6,1.7,1.8,1.9,1.9,1.8,1.7,1.5,1.2,0.9],
[0.6,0.5,0.4,0.5,0.6,0.7,0.8,0.9,1.0,1.1,1.0,1.2,1.4,1.6,1.7,1.8,1.9,2.0,2.0,1.9,1.6,1.3,0.9,0.5],
[0.9,0.9,0.8,0.6,0.5,0.7,0.9,0.8,0.6,0.7,0.8,1.0,1.2,1.3,1.4,1.5,1.6,1.6,1.7,1.6,1.4,1.1,0.8,0.5],
[0.2,0.4,0.6,0.7,0.8,0.9,0.6,0.5,0.4,0.2,0.5,0.8,1.1,1.4,1.6,1.8,1.9,2.4,1.9,1.7,1.9,1.4,1.0,0.6],
[0.4,0.6,0.8,1.0,1.1,1.2,1.5,1.3,1.0,0.9,0.8,0.9,1.1,1.3,1.4,1.3,1.5,1.6,1.6,1.5,1.3,1.0,0.7,0.4],
[0.3,0.3,0.5,0.6,0.8,0.9,1.0,0.9,0.8,0.9,1.0,1.3,1.5,1.6,1.5,1.4,1.3,1.2,1.0,0.8,0.9,1.0,0.8,0.5],
[0.6,0.8,1.0,1.2,1.3,1.4,1.2,1.0,0.8,0.7,0.6,0.8,1.0,1.3,1.5,1.6,1.7,1.7,1.6,1.5,1.4,1.2,0.9,0.6],
[0.5,0.6,0.7,0.6,0.5,0.6,0.8,1.0,0.9,0.8,0.7,0.9,1.2,1.5,1.9,2.0,1.8,1.7,1.6,1.6,1.5,1.3,1.1,0.8],
[0.4,0.5,0.6,0.7,0.6,0.5,0.7,0.9,1.0,0.9,1.0,1.2,1.3,1.5,1.6,1.5,1.4,1.5,1.6,1.7,1.5,1.2,0.9,0.6],
[0.6,0.5,0.4,0.3,0.4,0.5,0.6,0.7,0.8,0.7,0.8,1.0,1.2,1.3,1.2,1.4,1.5,1.4,1.5,1.4,1.3,1.1,0.8,0.4],
[0.7,0.6,0.5,0.6,0.7,0.8,0.7,0.6,0.5,0.4,0.6,0.9,1.1,1.3,1.5,1.6,1.6,1.6,1.4,1.2,1.0,1.1,0.9,0.7],
[0.5,0.7,0.9,1.0,1.1,1.2,1.3,1.3,1.2,1.1,1.0,1.2,1.4,1.5,1.4,1.2,1.3,1.5,1.6,1.5,1.3,1.1,0.8,0.4]];

const monthData = [enero,febrero,marzo,abril,mayo,junio,julio,agosto,septiembre,octubre,noviembre,diciembre];

const colLefts = [38, 343, 648];
const rowTops = [53, 167, 280, 394];
const ML = 38, MR = 12, MT = 22, MB = 38, PW = 231, PH = 60;
const font = '"Liberation Sans", Arial, sans-serif';

function panel(name, lines, isJunio) {
  const rows = [];
  lines.forEach((l, i) => l.forEach((v, h) => rows.push({h: hours[h], v, d: i, c: colors[i % colors.length]})));
  const yT = isJunio ? yTicks2 : yTicks4;
  const yM = isJunio ? yMinor2 : yMinor4;
  return Plot.plot({
    width: ML + PW + MR, height: MT + PH + MB,
    marginLeft: ML, marginRight: MR, marginTop: MT, marginBottom: MB,
    style: {fontFamily: font, background: "transparent", overflow: "visible", maxWidth: "none"},
    x: {domain: [0, 23]},
    y: {domain: [0, isJunio ? 2 : 4]},
    color: {type: "identity"},
    marks: [
      Plot.gridX(xMinor, {stroke: "#bdbdbd", strokeOpacity: 1, strokeDasharray: "1,2.5"}),
      Plot.gridY(yM, {stroke: "#bdbdbd", strokeOpacity: 1, strokeDasharray: "1,2.5"}),
      Plot.gridX(xTicks, {stroke: "#dedede", strokeOpacity: 1}),
      Plot.gridY(yT, {stroke: "#dedede", strokeOpacity: 1}),
      Plot.lineY(rows, {x: "h", y: "v", z: "d", stroke: "c", strokeWidth: 1}),
      Plot.frame({stroke: "#5f5f5f", strokeWidth: 1}),
      Plot.axisX(xTicks, {tickSize: 0, tickPadding: 6, fontSize: 11, color: "#333", label: null}),
      Plot.axisY(yT, {tickSize: 0, tickPadding: 5, fontSize: 11, color: "#333", label: null}),
      Plot.text([name], {frameAnchor: "top", dy: -10, fontWeight: "bold", fontSize: 12, fill: "#111"}),
      Plot.text(["Hora"], {frameAnchor: "bottom", dy: 26, fontSize: 13, fill: "#333"}),
      Plot.text(["V/V̄"], {frameAnchor: "left", dx: -25, rotate: -90, fontSize: 8, fill: "#333"})
    ]
  });
}

const fig = document.getElementById("fig");
monthNames.forEach((name, k) => {
  const r = Math.floor(k / 3), c = k % 3;
  const div = document.createElement("div");
  div.className = "panel";
  div.style.left = (colLefts[c] - ML) + "px";
  div.style.top = (rowTops[r] - MT) + "px";
  div.appendChild(panel(name, monthData[k], name === "Junio"));
  fig.appendChild(div);
});
</script>
</body></html>
